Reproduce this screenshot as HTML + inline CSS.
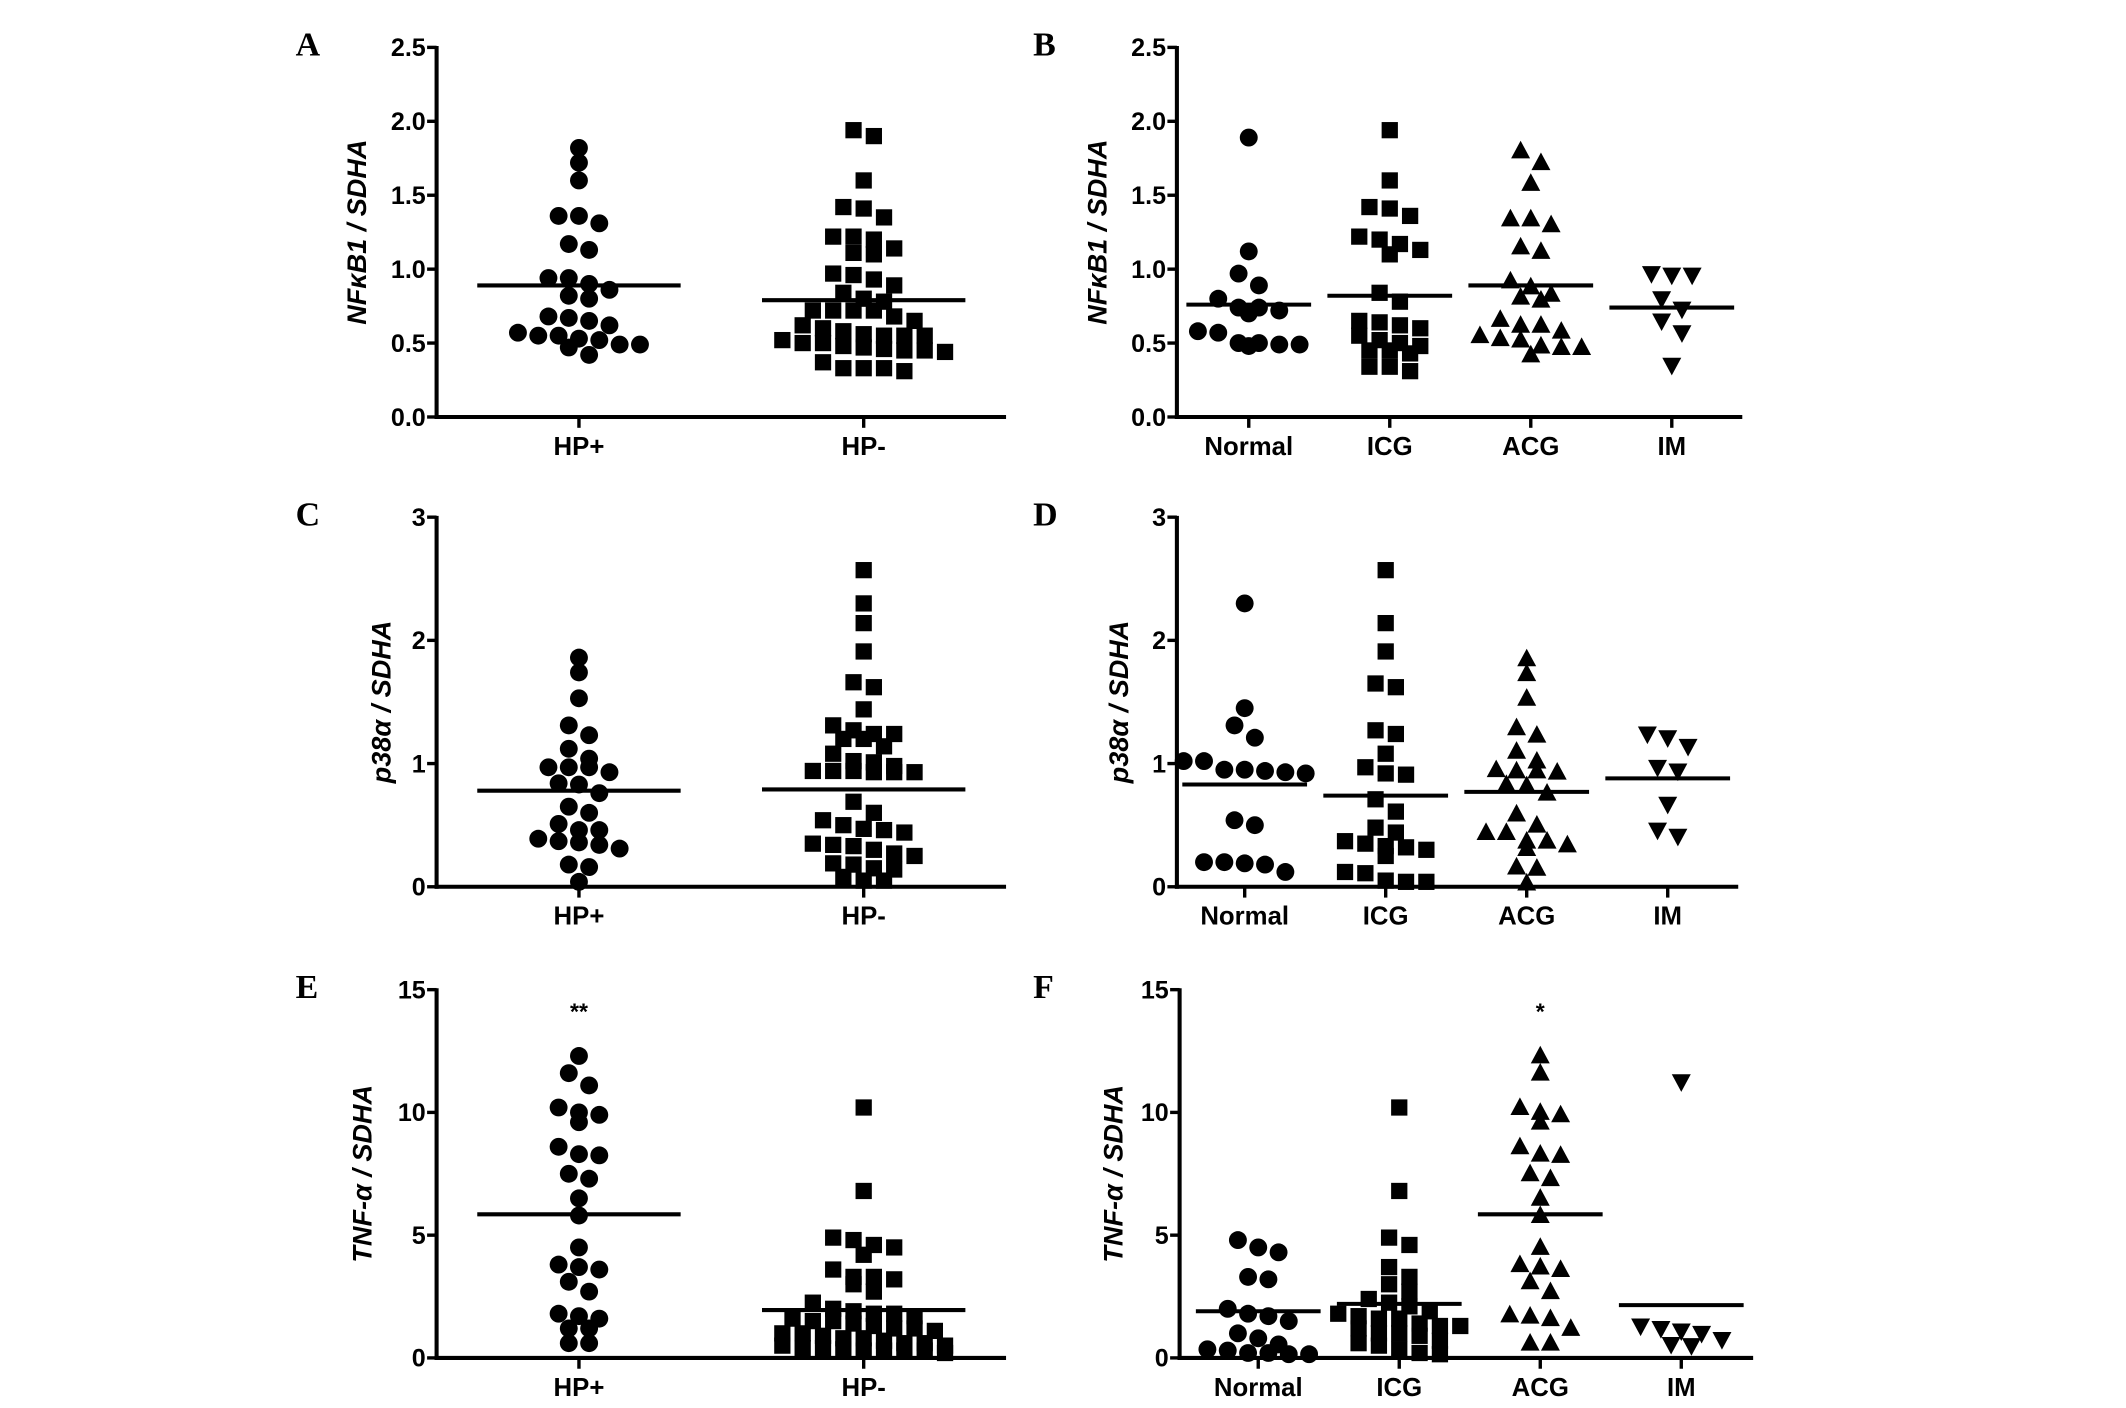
<!DOCTYPE html>
<html><head><meta charset="utf-8"><style>
html,body{margin:0;padding:0;background:#fff;}
svg{display:block;}
text{font-family:"Liberation Sans",Arial,sans-serif;fill:#000;}
</style></head><body>
<svg id="fig" width="2126" height="1408" viewBox="0 0 1568 1040" preserveAspectRatio="none" xmlns="http://www.w3.org/2000/svg"></svg>
<script>
// ---- Data ----
const catsHP = ["HP+", "HP-"];
const catsStage = ["Normal", "ICG", "ACG", "IM"];

const nfkbHPpos = [1.82,1.72,1.60,1.36,1.31,1.36,1.17,1.13,0.94,0.94,0.86,0.90,0.80,0.82,0.68,0.67,0.62,0.65,0.57,0.55,0.55,0.52,0.53,0.49,0.47,0.49,0.42];
const nfkbHPneg = [1.94,1.90,1.60,1.42,1.41,1.35,1.22,1.20,1.22,1.11,1.10,1.14,0.97,0.93,0.96,0.89,0.84,0.80,0.78,0.72,0.72,0.72,0.72,0.68,0.65,0.62,0.60,0.58,0.56,0.55,0.55,0.55,0.52,0.50,0.50,0.48,0.47,0.46,0.45,0.45,0.44,0.37,0.33,0.31,0.33,0.33];
const nfkbHPmeans = [0.89, 0.79];

const nfkbNormal = [1.89,1.12,0.97,0.89,0.80,0.74,0.74,0.72,0.70,0.58,0.57,0.50,0.49,0.48,0.49,0.50];
const nfkbICG = [1.94,1.60,1.42,1.41,1.36,1.22,1.20,1.17,1.13,1.10,0.84,0.78,0.62,0.64,0.65,0.60,0.55,0.52,0.50,0.48,0.45,0.45,0.43,0.34,0.31,0.34];
const nfkbACG = [1.80,1.72,1.58,1.34,1.30,1.34,1.15,1.12,0.92,0.88,0.83,0.79,0.81,0.62,0.62,0.66,0.53,0.55,0.58,0.52,0.48,0.47,0.47,0.42];
const nfkbIM = [0.96,0.96,0.97,0.80,0.73,0.65,0.57,0.35];
const nfkbStageMeans = [0.76, 0.82, 0.89, 0.74];

const p38HPpos = [1.86,1.74,1.53,1.31,1.23,1.12,1.04,0.97,0.97,0.97,0.93,0.83,0.84,0.76,0.65,0.60,0.51,0.46,0.37,0.34,0.31,0.36,0.39,0.46,0.18,0.16,0.04];
const p38HPneg = [2.57,2.30,2.14,1.91,1.66,1.62,1.44,1.27,1.24,1.20,1.20,1.14,1.24,1.31,1.08,1.02,1.01,0.98,0.94,0.94,0.93,0.93,0.93,0.94,0.69,0.60,0.54,0.50,0.46,0.47,0.44,0.35,0.34,0.33,0.30,0.27,0.25,0.19,0.18,0.15,0.14,0.08,0.05,0.05];
const p38HPmeans = [0.78, 0.79];

const p38Normal = [2.30,1.45,1.31,1.21,1.02,1.02,0.95,0.93,0.95,0.92,0.94,0.54,0.50,0.20,0.20,0.19,0.18,0.12];
const p38ICG = [2.57,2.14,1.91,1.62,1.65,1.27,1.24,1.08,0.97,0.91,0.92,0.71,0.61,0.48,0.44,0.37,0.35,0.33,0.30,0.25,0.32,0.11,0.12,0.05,0.04,0.04];
const p38ACG = [1.85,1.73,1.53,1.29,1.23,1.10,1.02,0.95,0.94,0.94,0.93,0.82,0.83,0.76,0.59,0.50,0.44,0.44,0.37,0.37,0.34,0.31,0.16,0.15,0.03];
const p38IM = [1.24,1.21,1.14,0.97,0.94,0.67,0.46,0.41];
const p38StageMeans = [0.83, 0.74, 0.77, 0.88];

const tnfHPpos = [12.3,11.6,11.1,10.2,9.9,9.6,10.0,8.6,8.25,8.3,7.5,7.3,6.5,5.8,4.5,3.7,3.6,3.8,3.1,2.7,1.8,1.7,1.6,1.2,1.2,0.6,0.6];
const tnfHPneg = [10.2,6.8,4.9,4.6,4.5,4.8,4.2,3.6,3.3,3.2,3.3,3.0,2.7,2.25,2.0,1.9,1.8,1.8,1.6,1.5,1.4,1.3,1.2,1.1,1.0,0.9,0.8,0.7,0.6,0.5,0.4,0.4,0.3,0.3,0.3,0.2,1.7,1.5,1.2,1.0,0.8,0.6,0.5,0.35,0.3];
const tnfHPmeans = [5.85, 1.95];

const tnfNormal = [4.8,4.5,4.3,3.3,3.2,2.0,1.8,1.7,1.5,1.0,0.8,0.55,0.35,0.3,0.2,0.2,0.15,0.15];
const tnfICG = [10.2,6.8,4.9,4.6,3.7,3.3,3.0,2.7,2.4,2.25,2.1,1.9,1.8,1.7,1.6,1.4,1.3,1.2,1.0,0.9,0.7,0.6,0.5,0.35,0.2,0.15,1.6,1.3,1.0];
const tnfACG = [12.3,11.6,10.2,9.9,9.6,10.0,8.6,8.25,8.3,7.5,7.3,6.5,5.8,4.5,3.7,3.6,3.8,3.1,2.7,1.75,1.7,1.6,1.2,0.6,0.6];
const tnfIM = [11.25,1.3,1.2,1.0,1.1,0.75,0.55,0.5];
const tnfStageMeans = [1.9, 2.2, 5.85, 2.15];

const ticksNF = ["0.0","0.5","1.0","1.5","2.0","2.5"];
const ticksP38 = ["0","1","2","3"];
const ticksTNF = ["0","5","10","15"];

// ---- Drawing ----
const NS = "http://www.w3.org/2000/svg";
const svg = document.getElementById('fig');
function mk(tag, attrs, parent){
  const e = document.createElementNS(NS, tag);
  for (const k in attrs) e.setAttribute(k, attrs[k]);
  (parent||svg).appendChild(e);
  return e;
}
const shapes = ["circle","square","triangle","invtri"];

function drawMarker(g, shape, cx, cy){
  let el;
  if (shape === "circle") el = mk('circle', {cx:cx, cy:cy, r:6.6}, g);
  else if (shape === "square") el = mk('rect', {x:cx-6, y:cy-6, width:12, height:12}, g);
  else if (shape === "triangle") el = mk('polygon', {points:`${cx},${cy-7.5} ${cx-7},${cy+5.5} ${cx+7},${cy+5.5}`}, g);
  else el = mk('polygon', {points:`${cx},${cy+7.5} ${cx-7},${cy-5.5} ${cx+7},${cy-5.5}`}, g);
  el.setAttribute('fill', '#000');
  
  
}

function panel(cfg){
  const g = mk('g', {});
  
  
  const y = v => cfg.y0 - (v - 0) / cfg.ymax * (cfg.y0 - cfg.yTop);
  const band = cfg.band;
  const xc = i => cfg.bandStart + (i + 0.5) * band;
  const ya = mk('line', {x1:cfg.ax, y1:cfg.yTop-1, x2:cfg.ax, y2:cfg.y0+1.5, stroke:'#000','stroke-width':3}, g);
   
  const xa = mk('line', {x1:cfg.ax-1.5, y1:cfg.y0, x2:cfg.xEnd, y2:cfg.y0, stroke:'#000','stroke-width':3}, g);
   
  cfg.ticks.forEach(t => {
    const v = parseFloat(t), yy = y(v);
    mk('line', {x1:cfg.ax-7, y1:yy, x2:cfg.ax, y2:yy, stroke:'#000','stroke-width':2.5}, g);
    const tx = mk('text', {x:cfg.ax-8, y:yy+6.5, 'text-anchor':'end', 'font-size':18.5, 'font-weight':'bold'}, g);
    tx.textContent = t;
     
  });
  const tt = mk('text', {x:0, y:0, 'text-anchor':'middle', 'font-size':20, 'font-weight':'bold', 'font-style':'italic',
    transform:`translate(${cfg.titleX},${(cfg.yTop+cfg.y0)/2}) rotate(-90)`}, g);
  tt.innerHTML = cfg.title;
   
  const lt = mk('text', {x:cfg.letterX, y:cfg.yTop+6, 'font-size':25, 'font-weight':'bold', style:'font-family:"Liberation Serif",serif'}, g);
  lt.textContent = cfg.letter;
   
  cfg.cats.forEach((c, i) => {
    const x = xc(i);
    mk('line', {x1:x, y1:cfg.y0, x2:x, y2:cfg.y0+8, stroke:'#000','stroke-width':2.5}, g);
    const cl = mk('text', {x:x, y:cfg.y0+28, 'text-anchor':'middle', 'font-size':19, 'font-weight':'bold'}, g);
    cl.textContent = c;
     
    const vals = cfg.series[i].slice().sort((a,b)=>b-a);
    const rows = [];
    vals.forEach(v => {
      const last = rows[rows.length-1];
      if (last && Math.abs(y(last[0]) - y(v)) < 10 && last.length < 9) last.push(v);
      else rows.push([v]);
    });
    rows.forEach(r => {
      const n = r.length;
      r.forEach((v, k) => drawMarker(g, cfg.shapes[i], x + (k - (n-1)/2) * 15, y(v)));
    });
    const ml = mk('line', {x1:x-cfg.meanHalf, y1:y(cfg.means[i]), x2:x+cfg.meanHalf, y2:y(cfg.means[i]), stroke:'#000','stroke-width':3}, g);
     
  });
  if (cfg.star) {
    const st = mk('text', {x:xc(cfg.star.i), y:cfg.yTop+22, 'text-anchor':'middle', 'font-size':17, 'font-weight':'bold'}, g);
    st.textContent = cfg.star.t;
     
  }
}

const NFT = 'NF<tspan font-style="italic">κ</tspan>B1 / SDHA';
panel({letter:'A', letterX:218, ax:322, yTop:35, y0:308, ymax:2.5, xEnd:742, bandStart:322, band:210, meanHalf:75,
  ticks:ticksNF, title:NFT, titleX:270, cats:catsHP, series:[nfkbHPpos, nfkbHPneg], means:nfkbHPmeans, shapes:["circle","square"]});
panel({letter:'B', letterX:762, ax:868, yTop:35, y0:308, ymax:2.5, xEnd:1285, bandStart:869, band:104, meanHalf:46,
  ticks:ticksNF, title:NFT, titleX:816, cats:catsStage, series:[nfkbNormal, nfkbICG, nfkbACG, nfkbIM], means:nfkbStageMeans, shapes:shapes});
panel({letter:'C', letterX:218, ax:322, yTop:382, y0:655, ymax:3, xEnd:742, bandStart:322, band:210, meanHalf:75,
  ticks:ticksP38, title:'p38α / SDHA', titleX:288, cats:catsHP, series:[p38HPpos, p38HPneg], means:p38HPmeans, shapes:["circle","square"]});
panel({letter:'D', letterX:762, ax:868, yTop:382, y0:655, ymax:3, xEnd:1282, bandStart:866, band:104, meanHalf:46,
  ticks:ticksP38, title:'p38α / SDHA', titleX:832, cats:catsStage, series:[p38Normal, p38ICG, p38ACG, p38IM], means:p38StageMeans, shapes:shapes});
panel({letter:'E', letterX:218, ax:322, yTop:731, y0:1003, ymax:15, xEnd:742, bandStart:322, band:210, meanHalf:75,
  ticks:ticksTNF, title:'TNF-α / SDHA', titleX:274, cats:catsHP, series:[tnfHPpos, tnfHPneg], means:tnfHPmeans, shapes:["circle","square"], star:{i:0,t:'**'}});
panel({letter:'F', letterX:762, ax:870, yTop:731, y0:1003, ymax:15, xEnd:1293, bandStart:876, band:104, meanHalf:46,
  ticks:ticksTNF, title:'TNF-α / SDHA', titleX:828, cats:catsStage, series:[tnfNormal, tnfICG, tnfACG, tnfIM], means:tnfStageMeans, shapes:shapes, star:{i:2,t:'*'}});
</script>
</body></html>
